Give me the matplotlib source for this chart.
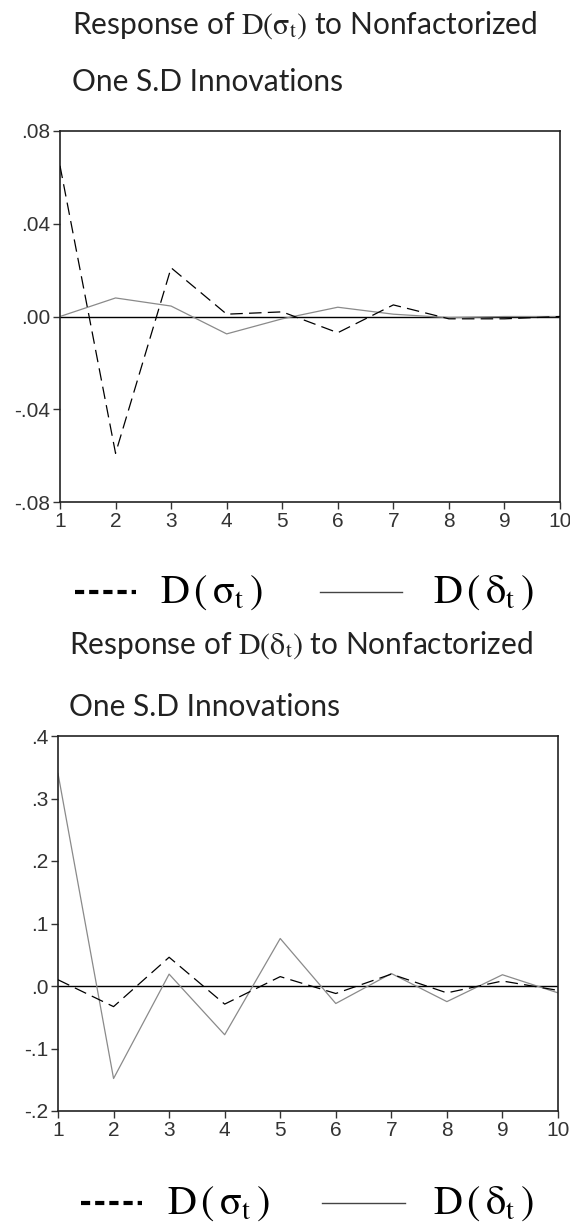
import matplotlib
matplotlib.use('Agg')
import matplotlib.pyplot as plt
from matplotlib.lines import Line2D

plt.rcParams['mathtext.fontset'] = 'stix'

# periods
periods = [1, 2, 3, 4, 5, 6, 7, 8, 9, 10]

# response of D(sigma_t)
sig_to_sig = [0.065, -0.059, 0.021, 0.001, 0.002, -0.007, 0.005, -0.001, -0.001, 0.000]
sig_to_del = [0.000, 0.008, 0.0045, -0.0075, -0.001, 0.004, 0.001, -0.0005, 0.000, 0.000]

# response of D(delta_t)
del_to_sig = [0.010, -0.033, 0.046, -0.029, 0.015, -0.012, 0.019, -0.011, 0.008, -0.007]
del_to_del = [0.340, -0.148, 0.019, -0.078, 0.076, -0.028, 0.020, -0.025, 0.018, -0.011]

top_ticks = [-0.08, -0.04, 0.0, 0.04, 0.08]
top_labels = ['-.08', '-.04', '.00', '.04', '.08']
bot_ticks = [-0.2, -0.1, 0.0, 0.1, 0.2, 0.3, 0.4]
bot_labels = ['-.2', '-.1', '.0', '.1', '.2', '.3', '.4']

sig_lbl = r'$\mathrm{D}(\mathrm{\sigma}_{\mathrm{t}})$'
del_lbl = r'$\mathrm{D}(\mathrm{\delta}_{\mathrm{t}})$'
sig_leg = r'$\mathrm{D}\,(\,\mathrm{\sigma}_{\mathrm{t}}\,)$'
del_leg = r'$\mathrm{D}\,(\,\mathrm{\delta}_{\mathrm{t}}\,)$'

W, H = 570, 1223
fig = plt.figure(figsize=(W / 100, H / 100), dpi=100)

tick_font = ['Liberation Sans Narrow', 'Liberation Sans', 'DejaVu Sans']
title_font = ['Lato', 'DejaVu Sans']


def fx(px):
    return px / W


def fy(py):
    return 1 - py / H


def panel(rect, s_dash, s_solid, yticks, ylabels):
    ax = fig.add_axes(rect)
    ax.axhline(0, color='black', lw=1.0, zorder=1)
    ax.plot(periods, s_solid, color='#8a8a8a', lw=0.9, zorder=2)
    ax.plot(periods, s_dash, color='black', lw=0.9, dashes=(10, 5), zorder=3)
    ax.set_xlim(1, 10)
    ax.set_ylim(yticks[0], yticks[-1])
    ax.set_xticks(periods)
    ax.set_xticklabels([str(p) for p in periods], family=tick_font, fontsize=15)
    ax.set_yticks(yticks)
    ax.set_yticklabels(ylabels, family=tick_font, fontsize=15)
    ax.tick_params(direction='out', length=5, width=1, colors='#333333', pad=2)
    for sp in ax.spines.values():
        sp.set_linewidth(1.2)
        sp.set_color('#222222')
    return ax


def legend_row(py, x_dash, x_sig, x_solid, x_del):
    y = fy(py)
    fig.add_artist(Line2D([fx(x_dash[0]), fx(x_dash[1])], [y, y], color='black',
                          lw=3, dashes=(2.2, 1.2)))
    fig.text(fx(x_sig), y, sig_leg, fontsize=29, va='center', ha='left')
    fig.add_artist(Line2D([fx(x_solid[0]), fx(x_solid[1])], [y, y], color='#444444', lw=1))
    fig.text(fx(x_del), y, del_leg, fontsize=29, va='center', ha='left')


# top panel
fig.text(fx(72), fy(25), r'Response of ' + sig_lbl + ' to Nonfactorized',
         family=title_font, fontsize=21.5, va='center', ha='left', color='#222222')
fig.text(fx(72), fy(82), 'One S.D Innovations',
         family=title_font, fontsize=21.5, va='center', ha='left', color='#222222')
panel([fx(60), fy(502), fx(560) - fx(60), fy(131) - fy(502)],
      sig_to_sig, sig_to_del, top_ticks, top_labels)
legend_row(592, (75, 136), 160, (320, 402), 433)

# bottom panel
fig.text(fx(69), fy(645), r'Response of ' + del_lbl + ' to Nonfactorized',
         family=title_font, fontsize=21.5, va='center', ha='left', color='#222222')
fig.text(fx(69), fy(707), 'One S.D Innovations',
         family=title_font, fontsize=21.5, va='center', ha='left', color='#222222')
panel([fx(58), fy(1111), fx(558) - fx(58), fy(736) - fy(1111)],
      del_to_sig, del_to_del, bot_ticks, bot_labels)
legend_row(1203, (81, 142), 167, (322, 405), 433)

fig.savefig('out.png', dpi=100)
